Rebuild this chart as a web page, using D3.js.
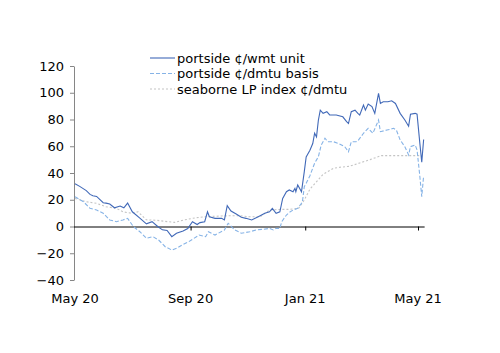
<!DOCTYPE html>
<html>
<head>
<meta charset="utf-8">
<script src="https://cdn.jsdelivr.net/npm/d3@7"></script>
<style>
  body { margin: 0; background: #fff; }
  text { font-family: "DejaVu Sans", Verdana, sans-serif; }
</style>
</head>
<body>
<div id="chart"></div>
<script>
// 凡例ラベル
var seriesNames = ["portside ¢/wmt unit", "portside ¢/dmtu basis", "seaborne LP index ¢/dmtu"];

// portside ¢/wmt unit (実線)
var solidDates = ["2020-05-01","2020-05-06","2020-05-13","2020-05-17","2020-05-20","2020-05-24","2020-05-31","2020-06-03","2020-06-07","2020-06-12","2020-06-18","2020-06-22","2020-06-26","2020-07-01","2020-07-09","2020-07-16","2020-07-22","2020-07-28","2020-08-02","2020-08-07","2020-08-12","2020-08-17","2020-08-24","2020-08-29","2020-09-03","2020-09-08","2020-09-11","2020-09-16","2020-09-19","2020-09-21","2020-09-27","2020-10-04","2020-10-07","2020-10-10","2020-10-14","2020-10-20","2020-10-25","2020-10-30","2020-11-05","2020-11-12","2020-11-19","2020-11-24","2020-11-27","2020-12-01","2020-12-05","2020-12-08","2020-12-12","2020-12-15","2020-12-19","2020-12-21","2020-12-22","2020-12-24","2020-12-28","2020-12-31","2021-01-02","2021-01-06","2021-01-09","2021-01-11","2021-01-13","2021-01-15","2021-01-17","2021-01-20","2021-01-24","2021-01-27","2021-02-03","2021-02-10","2021-02-14","2021-02-16","2021-02-19","2021-02-23","2021-02-26","2021-02-28","2021-03-04","2021-03-06","2021-03-09","2021-03-13","2021-03-16","2021-03-20","2021-03-22","2021-03-25","2021-03-30","2021-04-03","2021-04-07","2021-04-12","2021-04-17","2021-04-21","2021-04-23","2021-04-28","2021-04-30","2021-05-03","2021-05-05","2021-05-07"];
var solidValues = [32,30,26.8,24,23,22.5,17.8,17.5,16.8,14,15.3,14,17.5,11,6.3,2,3.6,0,-2.5,-3,-7.6,-5,-3.4,-1.5,3.6,1.5,2.9,3.6,11,7.3,6.1,6.1,4.9,15.6,11.6,9.1,6.9,6.1,4.9,7.3,9.9,11,13.6,9.9,11,21,26,27.3,26,28.5,26,31,26,41,52,57,62,69.7,67,79.6,87,84.6,85.8,83.4,83.4,82,78.4,77,85.8,87,84.6,83.4,90.8,87,91.6,89.6,84.6,99.6,92,93.3,93.3,94,92,84.6,79.6,75,84,84.6,84,62,48,65];

// portside ¢/dmtu basis (破線)
var dashedDates = ["2020-05-01","2020-05-10","2020-05-17","2020-05-24","2020-05-31","2020-06-07","2020-06-14","2020-06-21","2020-06-26","2020-07-02","2020-07-09","2020-07-16","2020-07-23","2020-07-29","2020-08-05","2020-08-12","2020-08-18","2020-08-23","2020-08-30","2020-09-10","2020-09-17","2020-09-20","2020-09-27","2020-10-07","2020-10-11","2020-10-18","2020-10-25","2020-11-03","2020-11-10","2020-11-17","2020-11-24","2020-11-28","2020-12-01","2020-12-05","2020-12-07","2020-12-12","2020-12-15","2020-12-19","2020-12-24","2020-12-28","2020-12-29","2020-12-31","2021-01-02","2021-01-06","2021-01-11","2021-01-15","2021-01-18","2021-01-22","2021-01-25","2021-01-31","2021-02-05","2021-02-12","2021-02-16","2021-02-19","2021-02-24","2021-02-26","2021-03-04","2021-03-09","2021-03-14","2021-03-20","2021-03-22","2021-03-29","2021-04-05","2021-04-08","2021-04-12","2021-04-17","2021-04-21","2021-04-23","2021-04-28","2021-04-30","2021-05-03","2021-05-05","2021-05-07"];
var dashedValues = [22.3,18.5,13.6,12.3,9.9,4.9,3.6,4.9,6.1,0,-3.9,-8.8,-7.6,-10.1,-15.1,-17.6,-16,-13.8,-11.4,-6.4,-7.6,-3.9,-6.4,-2.6,2.4,-2.6,-5,-3.9,-2.6,-2.1,-1.4,-2.6,-1.4,-1.4,3.6,8.6,10.5,12.3,13.6,17.3,18.5,29.8,32.3,38,47.3,52.2,60.9,66,63.4,63.4,62.2,59.7,55.9,63.4,63.4,64,69.7,73.4,69.7,79.6,70.9,72.1,73.4,72,64.7,59.7,53.5,59.7,60.9,57.2,37.2,22.3,38];

// seaborne LP index ¢/dmtu (点線)
var dottedDates = ["2020-05-01","2020-05-13","2020-05-24","2020-06-03","2020-06-14","2020-06-21","2020-06-30","2020-07-07","2020-07-16","2020-07-27","2020-08-08","2020-08-15","2020-08-25","2020-09-07","2020-09-17","2020-10-04","2020-10-22","2020-11-03","2020-11-14","2020-11-24","2020-12-05","2020-12-15","2020-12-25","2020-12-31","2021-01-06","2021-01-20","2021-01-31","2021-02-07","2021-02-17","2021-02-28","2021-03-11","2021-03-23","2021-04-05","2021-04-23","2021-05-05"];
var dottedValues = [21,18.5,17.3,14.8,13.6,11,9.9,11,5,4.6,3.6,3.1,4.9,6.6,7.3,7.9,8.1,7.3,7.3,12.3,12.8,12.8,13.6,19.8,28,39,43.5,44.3,45,47.5,50,53,53,53,53];

// 軸の目盛り
var yTicks = [-40, -20, 0, 20, 40, 60, 80, 100, 120];
var xTickDates = ["2020-05-01", "2020-09-01", "2021-01-01", "2021-05-01"];

function chart() {
  var width = 500;
  var height = 353;
  var left = 74, right = 418, top = 66, bottom = 280;

  var parse = d3.timeParse("%Y-%m-%d");

  var svg = d3.select("#chart")
    .append("svg")
    .attr("width", width)
    .attr("height", height);

  var x = d3.scaleTime()
    .domain([parse("2020-05-01"), parse("2021-05-01")])
    .range([left + 1, right]);

  var y = d3.scaleLinear()
    .domain([-40, 120])
    .range([bottom, top]);

  // Y軸
  var yAxis = svg.append("g")
    .attr("transform", "translate(" + left + ",0)")
    .call(d3.axisLeft(y).tickValues(yTicks).tickSize(4).tickPadding(6).tickSizeOuter(0));
  yAxis.select(".domain").attr("stroke", "#868686");
  yAxis.selectAll(".tick line").attr("stroke", "#868686");
  yAxis.selectAll(".tick text")
    .attr("font-size", "13px")
    .attr("fill", "#000")
    .style("font-family", "DejaVu Sans");

  // ゼロ線 (目盛り付き)
  var xAxis = svg.append("g")
    .attr("transform", "translate(0," + y(0) + ")")
    .call(d3.axisBottom(x)
      .tickValues(xTickDates.map(parse).slice(1))
      .tickSize(4)
      .tickSizeOuter(0)
      .tickFormat(""));
  xAxis.select(".domain").attr("stroke", "#000").attr("d", "M" + left + ",0.5H" + (x(parse("2021-05-07")) + 1));
  xAxis.selectAll(".tick line").attr("stroke", "#000");

  // 下側の日付ラベル
  var fmt = d3.timeFormat("%b %y");
  svg.selectAll(".xlabel")
    .data(xTickDates.map(parse))
    .enter()
    .append("text")
    .attr("class", "xlabel")
    .attr("x", function (d) { return x(d); })
    .attr("y", 303)
    .attr("text-anchor", "middle")
    .attr("font-size", "13px")
    .text(function (d) { return fmt(d); });

  var line = d3.line()
    .x(function (d) { return x(d.date); })
    .y(function (d) { return y(d.value); });

  function toPoints(dates, values) {
    return dates.map(function (d, i) { return { date: parse(d), value: values[i] }; });
  }

  var series = [
    { name: seriesNames[0], points: toPoints(solidDates, solidValues), color: "#4169b8", dash: null },
    { name: seriesNames[1], points: toPoints(dashedDates, dashedValues), color: "#86b3e6", dash: "4,2" },
    { name: seriesNames[2], points: toPoints(dottedDates, dottedValues), color: "#c4c4c4", dash: "2,2" }
  ];

  // 奥から描画 (点線 → 破線 → 実線)
  svg.selectAll(".series")
    .data(series.slice().reverse())
    .enter()
    .append("path")
    .attr("class", "series")
    .attr("fill", "none")
    .attr("stroke", function (d) { return d.color; })
    .attr("stroke-width", 1.1)
    .attr("stroke-dasharray", function (d) { return d.dash; })
    .attr("d", function (d) { return line(d.points); });

  // 凡例
  var legend = svg.selectAll(".legend")
    .data(series)
    .enter()
    .append("g")
    .attr("class", "legend")
    .attr("transform", function (d, i) { return "translate(150," + (58 + i * 15.5) + ")"; });

  legend.append("line")
    .attr("x1", 0)
    .attr("x2", 25)
    .attr("y1", 0)
    .attr("y2", 0)
    .attr("stroke", function (d) { return d.color; })
    .attr("stroke-width", 1.1)
    .attr("stroke-dasharray", function (d) { return d.dash; });

  legend.append("text")
    .attr("x", 27)
    .attr("y", 0)
    .attr("dy", "0.35em")
    .attr("font-size", "13px")
    .text(function (d) { return d.name; });
}

chart();
</script>
</body>
</html>
